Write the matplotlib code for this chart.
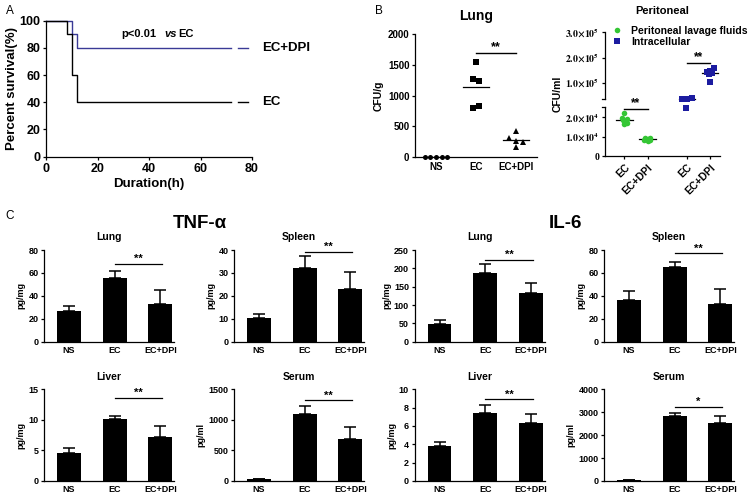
import numpy as np
import matplotlib
matplotlib.use("Agg")
import matplotlib.pyplot as plt

plt.rcParams.update({
    "font.family": "Liberation Sans",
    "font.weight": "bold",
    "axes.labelweight": "bold",
    "axes.titleweight": "bold",
    "axes.linewidth": 0.9,
    "xtick.major.width": 0.9,
    "ytick.major.width": 0.9,
    "xtick.major.size": 2.5,
    "ytick.major.size": 2.5,
    "xtick.major.pad": 2,
    "ytick.major.pad": 1.5,
    "mathtext.fontset": "stix",
})

W, H = 750, 499

# ---------------- data ----------------
# A: survival curves
surv_t_ec = [0, 8, 10, 12, 72]
surv_ec = [100, 90, 60, 40, 40]
surv_t_dpi = [0, 10, 12, 72]
surv_dpi = [100, 90, 80, 80]

# B: lung CFU
lung_groups = ["NS", "EC", "EC+DPI"]
lung_ns = [0, 0, 0, 0, 0]
lung_ec = [1540, 1270, 1235, 800, 835]
lung_dpi = [420, 300, 250, 245, 165]

# B: peritoneal CFU
perit_labels = ["EC", "EC+DPI", "EC", "EC+DPI"]
lavage_ec = [2.2e4, 1.95e4, 1.9e4, 1.85e4, 1.7e4, 1.65e4]
lavage_dpi = [0.95e4, 0.92e4, 0.88e4, 0.85e4, 0.8e4, 0.75e4]
intra_ec = [3.4e4, 3.4e4, 3.9e4, 2.45e4]
intra_dpi = [1.57e5, 1.45e5, 1.42e5, 1.38e5, 1.36e5, 1.02e5]

# C: cytokines (mean, SD)
groups = ["NS", "EC", "EC+DPI"]
tnf_lung, tnf_lung_sd = [27, 56, 33], [4.5, 6, 12]
tnf_spleen, tnf_spleen_sd = [10.5, 32, 23], [1.8, 5.3, 7.5]
tnf_liver, tnf_liver_sd = [4.6, 10.2, 7.2], [0.8, 0.5, 1.8]
tnf_serum, tnf_serum_sd = [25, 1090, 680], [15, 140, 210]
il6_lung, il6_lung_sd = [48, 188, 134], [10, 23, 26]
il6_spleen, il6_spleen_sd = [36, 65, 33], [8, 4.5, 13]
il6_liver, il6_liver_sd = [3.8, 7.4, 6.3], [0.45, 0.85, 1.0]
il6_serum, il6_serum_sd = [30, 2850, 2550], [20, 100, 300]

fig = plt.figure(figsize=(W / 100, H / 100), dpi=100)


def px_axes(l, t, r, b):
    return fig.add_axes([l / W, 1 - b / H, (r - l) / W, (b - t) / H])


def clean(ax):
    ax.spines["top"].set_visible(False)
    ax.spines["right"].set_visible(False)


# ---------------- panel A ----------------
ax = px_axes(46, 20.7, 252, 156.7)
clean(ax)
blue_a = "#3a3a96"
ax.step(surv_t_dpi, surv_dpi, where="post", color=blue_a, lw=1.0, clip_on=False)
ax.step(surv_t_ec, surv_ec, where="post", color="black", lw=1.0, clip_on=False)
ax.set_xlim(0, 80)
ax.set_ylim(0, 100)
ax.set_xticks([0, 20, 40, 60, 80])
ax.set_yticks([0, 20, 40, 60, 80, 100])
ax.tick_params(labelsize=9)
ax.set_xlabel("Duration(h)", fontsize=9.5, labelpad=2)
ax.set_ylabel("Percent survival(%)", fontsize=9.5, labelpad=1)
# side labels next to curve ends
for yv, col, lab in [(surv_dpi[-1], blue_a, "EC+DPI"), (surv_ec[-1], "black", "EC")]:
    ax.plot([0.934, 0.982], [yv, yv], color=col, lw=1.0,
            transform=ax.get_yaxis_transform(), clip_on=False)
    ax.text(1.047, yv, lab, fontsize=9.5, va="center", ha="left",
            transform=ax.get_yaxis_transform())
ax.text(0.367, 90, "p<0.01", fontsize=8, va="center", transform=ax.get_yaxis_transform())
ax.text(0.574, 90, "vs", fontsize=8, style="italic", va="center",
        transform=ax.get_yaxis_transform())
ax.text(0.642, 90, "EC", fontsize=8, va="center", transform=ax.get_yaxis_transform())

# ---------------- panel B: lung ----------------
ax = px_axes(415, 34.3, 537, 156.7)
clean(ax)
ns_off = np.linspace(-0.28, 0.28, 5)
ec_off = [0, -0.08, 0.07, -0.08, 0.07]
dpi_off = [0, -0.17, 0, 0.17, 0]
for i, (vals, off, mk, ms) in enumerate([(lung_ns, ns_off, "o", 3.6),
                                         (lung_ec, ec_off, "s", 3.8),
                                         (lung_dpi, dpi_off, "^", 3.8)]):
    ax.plot(i + np.asarray(off), vals, mk, color="black", ms=ms, mew=0, clip_on=False, zorder=3)
    m = np.mean(vals)
    ax.plot([i - 0.33, i + 0.33], [m, m], color="black", lw=0.9)
ax.set_xlim(-0.525, 2.525)
ax.set_ylim(0, 2000)
ax.set_yticks([0, 500, 1000, 1500, 2000])
ax.set_xticks(range(3))
ax.set_xticklabels(lung_groups)
ax.tick_params(axis="x", length=0, pad=4)
ax.tick_params(labelsize=7)
ax.set_ylabel("CFU/g", fontsize=7.5, labelpad=3)
ax.set_title("Lung", fontsize=10, pad=10)
ax.plot([1, 2], [1690, 1690], color="black", lw=1.0)
ax.text(1.5, 1690, "**", ha="center", va="bottom", fontsize=9)

# ---------------- panel B: peritoneal ----------------
brk_v = [-1e6, 0, 2.5e4, 3.3e4, 3e5, 1e7]
brk_h = [-1940, 0, 48.5, 56.7, 123.45, 2548.45]


def fwd(y):
    return np.interp(y, brk_v, brk_h)


def inv(h):
    return np.interp(h, brk_h, brk_v)


ax = px_axes(605, 32.5, 720, 156)
clean(ax)
ax.spines["left"].set_visible(False)
ax.set_yscale("function", functions=(fwd, inv))
ax.set_ylim(0, 3e5)
green = "#34c634"
navy = "#1c1ca0"
xpos = [0, 1, 2.7, 3.7]
sets = [
    (lavage_ec, [0, -0.12, 0.12, -0.06, 0.1, 0], "o", green),
    (lavage_dpi, [-0.12, 0.12, 0, -0.15, 0.1, 0], "o", green),
    (intra_ec, [-0.22, 0, 0.22, -0.03], "s", navy),
    (intra_dpi, [0.19, 0.0, -0.14, 0.07, -0.05, 0], "s", navy),
]
for xp, (vals, off, mk, col) in zip(xpos, sets):
    m = np.mean(vals)
    ax.plot([xp - 0.35, xp + 0.35], [m, m], color="black", lw=0.9, zorder=2)
    ax.plot(xp + np.asarray(off), vals, mk, color=col, ms=4, mew=0, zorder=3)
ax.set_xlim(-0.84, 4.13)
ax.set_xticks(xpos)
ax.set_xticklabels(perit_labels, rotation=45, ha="right", rotation_mode="anchor", fontsize=7.5)
yt = [0, 1e4, 2e4, 1e5, 2e5, 3e5]
ax.set_yticks(yt)
ax.set_yticklabels(["0"] + [r"$%.1f{\times}10^{%d}$" % (v / 10 ** int(np.log10(v)), int(np.log10(v)))
                            for v in yt[1:]], fontsize=7)
for lab in ax.get_yticklabels():
    lab.set_fontfamily("Liberation Serif")
ax.yaxis.set_minor_locator(plt.NullLocator())
ytr = ax.get_yaxis_transform()
for lo, hi in [(0, 2.5e4), (3.3e4, 3e5)]:
    ax.plot([0, 0], [lo, hi], color="black", lw=0.9, transform=ytr, clip_on=False)
for yb in [2.5e4, 3.3e4]:
    ax.plot([-0.025, 0], [yb, yb], color="black", lw=0.9, transform=ytr, clip_on=False)
ax.set_ylabel("CFU/ml", fontsize=7.5, labelpad=2)
ax.set_title("Peritoneal", fontsize=8, pad=13)
ax.plot([0, 1], [2.42e4, 2.42e4], color="black", lw=1.0)
ax.text(0.5, 2.42e4, "**", ha="center", va="bottom", fontsize=8.5)
ax.plot([2.7, 3.7], [1.79e5, 1.79e5], color="black", lw=1.0)
ax.text(3.2, 1.79e5, "**", ha="center", va="bottom", fontsize=8.5)
h1, = ax.plot([], [], "o", color=green, ms=4, mew=0)
h2, = ax.plot([], [], "s", color=navy, ms=4, mew=0)
ax.legend([h1, h2], ["Peritoneal lavage fluids", "Intracellular"], loc="upper left",
          bbox_to_anchor=(0.055, 1.055), frameon=False, fontsize=7.5, handlelength=1,
          handletextpad=0.9, labelspacing=0.1, borderpad=0, borderaxespad=0)

# ---------------- panel C: bars ----------------
def bar_panel(l, t, title, mean, sd, top, step, ylabel, sig_y, star):
    ax = px_axes(l, t, l + 130, t + 91.7)
    clean(ax)
    x = np.arange(len(groups))
    ax.bar(x, mean, width=0.52, color="black")
    ax.errorbar(x, mean, yerr=[np.zeros(len(sd)), sd], fmt="none", ecolor="black",
                elinewidth=1.1, capsize=4, capthick=1.1)
    ax.set_xlim(-0.55, 2.3)
    ax.set_ylim(0, top)
    ax.set_yticks(np.arange(0, top + step / 2, step))
    ax.set_xticks(x)
    ax.set_xticklabels(groups)
    ax.tick_params(axis="x", length=0, pad=3)
    ax.tick_params(labelsize=6.5)
    ax.set_ylabel(ylabel, fontsize=6.5, labelpad=2)
    ax.set_title(title, fontsize=7.5, pad=7)
    ax.plot([1, 2.04], [sig_y, sig_y], color="black", lw=0.9)
    ax.text(1.52, sig_y, star, ha="center", va="bottom", fontsize=8)


cols = [44, 234, 414.5, 604]
r1, r2 = 250, 389.3
bar_panel(cols[0], r1, "Lung", tnf_lung, tnf_lung_sd, 80, 20, "pg/mg", 67.5, "**")
bar_panel(cols[1], r1, "Spleen", tnf_spleen, tnf_spleen_sd, 40, 10, "pg/mg", 39.3, "**")
bar_panel(cols[2], r1, "Lung", il6_lung, il6_lung_sd, 250, 50, "pg/mg", 222, "**")
bar_panel(cols[3], r1, "Spleen", il6_spleen, il6_spleen_sd, 80, 20, "pg/mg", 77, "**")
bar_panel(cols[0], r2, "Liver", tnf_liver, tnf_liver_sd, 15, 5, "pg/mg", 13.6, "**")
bar_panel(cols[1], r2, "Serum", tnf_serum, tnf_serum_sd, 1500, 500, "pg/ml", 1319, "**")
bar_panel(cols[2], r2, "Liver", il6_liver, il6_liver_sd, 10, 2, "pg/mg", 8.9, "**")
bar_panel(cols[3], r2, "Serum", il6_serum, il6_serum_sd, 4000, 1000, "pg/ml", 3240, "*")

# ---------------- headings ----------------
fig.text(200 / W, 1 - 223 / H, "TNF-\u03b1", fontsize=13.5, ha="center", va="center")
fig.text(565 / W, 1 - 223 / H, "IL-6", fontsize=13.5, ha="center", va="center")
for lab, xx, yy in [("A", 6, 11), ("B", 375, 11), ("C", 5, 216)]:
    fig.text(xx / W, 1 - yy / H, lab, fontsize=8.5, fontweight="normal", va="center")

fig.savefig("out.png", dpi=100)
